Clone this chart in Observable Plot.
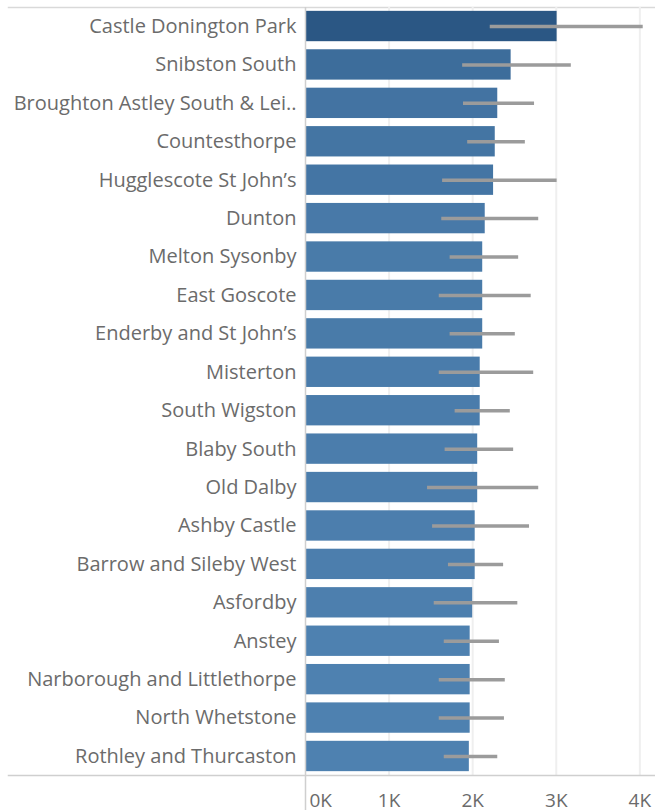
<!DOCTYPE html>
<html><head><meta charset="utf-8">
<script src="https://cdn.jsdelivr.net/npm/d3@7"></script>
<script src="https://cdn.jsdelivr.net/npm/@observablehq/plot@0.6"></script>
<style>body{margin:0;background:#fff}</style>
</head><body><div id="chart"></div>
<script>
const wards = ["Castle Donington Park","Snibston South","Broughton Astley South & Lei..","Countesthorpe","Hugglescote St John’s","Dunton","Melton Sysonby","East Goscote","Enderby and St John’s","Misterton","South Wigston","Blaby South","Old Dalby","Ashby Castle","Barrow and Sileby West","Asfordby","Anstey","Narborough and Littlethorpe","North Whetstone","Rothley and Thurcaston"];
const values = [3010,2460,2300,2270,2250,2150,2120,2120,2120,2090,2090,2060,2060,2030,2030,2000,1970,1970,1970,1960];
const lower  = [2210,1880,1890,1940,1640,1630,1730,1600,1730,1600,1790,1670,1460,1520,1710,1540,1660,1600,1600,1660];
const upper  = [4040,3180,2740,2630,3010,2790,2550,2700,2510,2730,2450,2490,2790,2680,2370,2540,2320,2390,2380,2300];
const gridTicks = [1000,2000,3000,4000];
const data = wards.map((w,i)=>({ward:w, value:values[i], lo:lower[i], hi:upper[i]}));
const fmt = d => d/1000 + "K";

const chart = Plot.plot({
  width: 655, height: 810,
  marginLeft: 305, marginRight: 0, marginTop: 7, marginBottom: 35,
  style: {fontFamily: "'Open Sans'", fontSize: "20px", color: "#6b6b6b", background: "#fff"},
  x: {domain: [0, 4187]},
  y: {domain: wards, paddingInner: 0.21, paddingOuter: 0.1, round: false},
  color: {type: "linear", domain: [1960, 3010], range: ["#4e81b0", "#2b5784"]},
  marks: [
    Plot.frame({anchor: "top", stroke: "#d9d9d9", strokeWidth: 1.5, insetLeft: -297}),
    Plot.ruleX(gridTicks, {stroke: "#efefef", strokeWidth: 2}),
    Plot.barX(data, {y: "ward", x: "value", fill: d => d.value}),
    Plot.ruleY(data, {y: "ward", x1: "lo", x2: "hi", stroke: "#9b9b9b", strokeWidth: 3.5}),
    Plot.ruleX([0], {stroke: "#cfcfcf", strokeWidth: 1.5, insetBottom: -35}),
    Plot.frame({anchor: "bottom", stroke: "#cfcfcf", strokeWidth: 1.5, insetLeft: -297}),
    Plot.axisY({tickSize: 0, tickPadding: 9, label: null}),
    Plot.axisX({ticks: [0], tickSize: 0, tickPadding: 18, textAnchor: "start", dx: 4, tickFormat: fmt, label: null, fontSize: 19}),
    Plot.axisX({ticks: gridTicks, tickSize: 0, tickPadding: 18, tickFormat: fmt, label: null, fontSize: 19})
  ]
});
document.getElementById("chart").appendChild(chart);
</script>
</body></html>
